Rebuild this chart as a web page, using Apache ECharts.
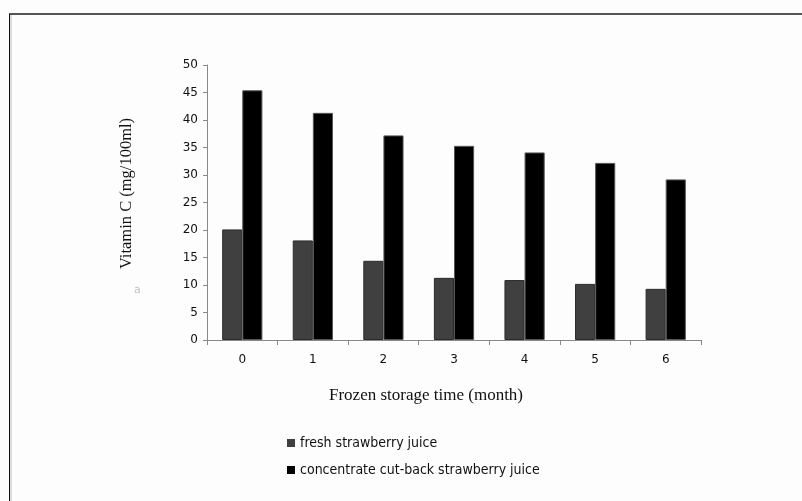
<!DOCTYPE html>
<html><head><meta charset="utf-8">
<script src="https://cdn.jsdelivr.net/npm/echarts@6/dist/echarts.min.js"></script>
<style>html,body{margin:0;padding:0;background:#fff}#c{width:802px;height:501px}</style>
</head><body><div id="c"></div>
<script>
const categories = ['0','1','2','3','4','5','6'];
const freshJuice = [20.1, 18.1, 14.4, 11.3, 10.9, 10.2, 9.3];
const concentrateJuice = [45.4, 41.3, 37.2, 35.3, 34.1, 32.2, 29.2];
const seriesNames = ['fresh strawberry juice', 'concentrate cut-back strawberry juice'];
const yTicks = [0, 50, 5];

const chart = echarts.init(document.getElementById('c'), null, {renderer:'canvas'});
chart.setOption({
  backgroundColor: '#fdfdfd',
  animation: false,
  graphic: [
    {type:'line', shape:{x1:9, y1:14, x2:802, y2:14}, style:{stroke:'#555', lineWidth:2}},
    {type:'line', shape:{x1:9.5, y1:14, x2:9.5, y2:501}, style:{stroke:'#111', lineWidth:1}},
    {type:'line', shape:{x1:11, y1:15, x2:11, y2:501}, style:{stroke:'#bbb', lineWidth:1}},
    {type:'text', left:134, top:285, style:{text:'a', fill:'#c0c0c0', font:'11px DejaVu Sans'}}
  ],
  grid: {left:207, right:101, top:65, bottom:161, containLabel:false},
  legend: {
    orient:'vertical', left:282, top:431, itemWidth:8, itemHeight:8, itemGap:13,
    icon:'rect',
    itemStyle:{borderWidth:0},
    textStyle:{fontFamily:'DejaVu Sans Condensed', fontSize:14, color:'#111'},
    data: seriesNames
  },
  xAxis: {
    type:'category', data:categories,
    name:'Frozen storage time (month)', nameLocation:'middle', nameGap:47,
    nameTextStyle:{fontFamily:'Liberation Serif', fontSize:17, color:'#111', padding:[0,56,0,0]},
    axisLine:{lineStyle:{color:'#888'}},
    axisTick:{show:true, alignWithLabel:false, length:5, lineStyle:{color:'#888'}},
    axisLabel:{fontFamily:'DejaVu Sans', fontSize:12, color:'#111', margin:14}
  },
  yAxis: {
    type:'value', min:yTicks[0], max:yTicks[1], interval:yTicks[2],
    name:'Vitamin C (mg/100ml)', nameLocation:'middle', nameGap:72,
    nameTextStyle:{fontFamily:'Liberation Serif', fontSize:16.5, color:'#111', padding:[0,0,0,18]},
    axisLine:{show:true, lineStyle:{color:'#888'}},
    axisTick:{show:true, length:4, lineStyle:{color:'#888'}},
    splitLine:{show:false},
    axisLabel:{fontFamily:'DejaVu Sans', fontSize:12, color:'#111', margin:9}
  },
  series: [
    {name:seriesNames[0], type:'bar', data:freshJuice, barGap:'0%', barCategoryGap:'43%',
     itemStyle:{color:'#404040', borderColor:'#2a2a2a', borderWidth:1}},
    {name:seriesNames[1], type:'bar', data:concentrateJuice,
     itemStyle:{color:'#000', borderColor:'#555', borderWidth:1}}
  ]
});
</script></body></html>
